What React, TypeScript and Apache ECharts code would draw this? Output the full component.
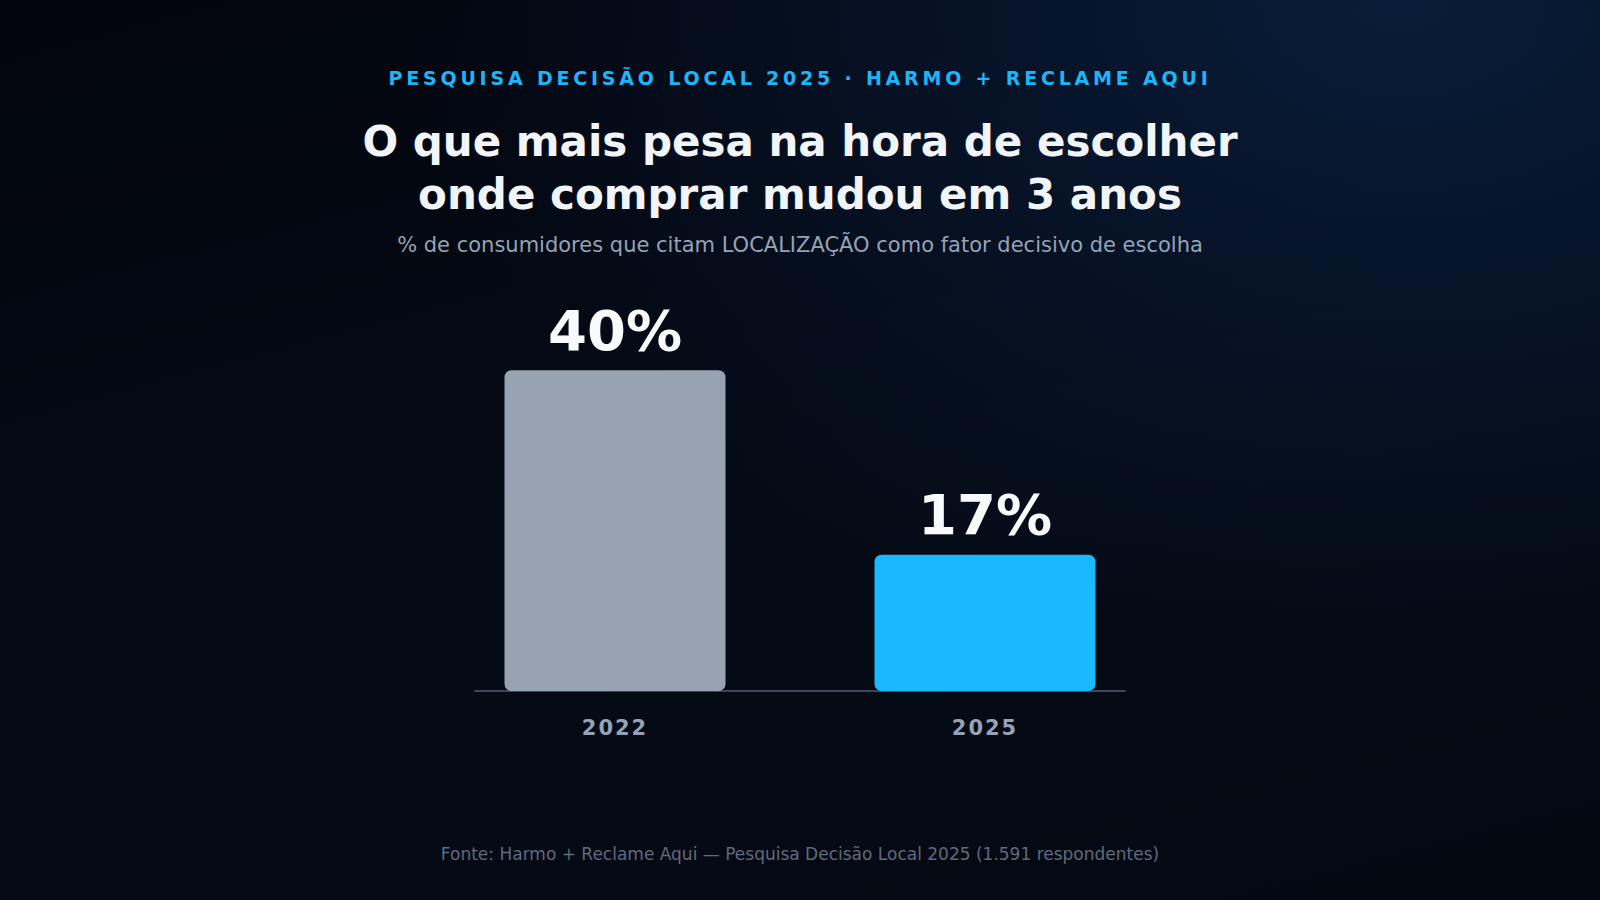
import * as echarts from "echarts";
import { useEffect, useRef } from "react";

const KICKER = "PESQUISA DECISÃO LOCAL 2025 · HARMO + RECLAME AQUI";
const TITLE_LINES = ["O que mais pesa na hora de escolher", "onde comprar mudou em 3 anos"];
const SUBTITLE = "% de consumidores que citam LOCALIZAÇÃO como fator decisivo de escolha";
const SOURCE = "Fonte: Harmo + Reclame Aqui — Pesquisa Decisão Local 2025 (1.591 respondentes)";

const years = ["2022", "2025"];
const shares = [40, 17];
const barColors = ["#97a3b3", "#18b9ff"];

const FONT = "'DejaVu Sans', 'Noto Sans', sans-serif";

const App = () => {
  const chartRef = useRef<HTMLDivElement>(null);

  useEffect(() => {
    if (!chartRef.current) return;
    const chart = echarts.init(chartRef.current, undefined, { renderer: "svg" });

    const titleLines = TITLE_LINES.map((line, i) => ({
      text: line,
      left: "center",
      top: 115 + i * 53,
      padding: 0,
      textStyle: { color: "#f1f5f9", fontSize: 42, fontWeight: "bold" as const, lineHeight: 53, fontFamily: FONT },
    }));

    const option: echarts.EChartsOption = {
      animation: false,
      backgroundColor: "transparent",
      textStyle: { fontFamily: FONT },
      title: [
        {
          text: KICKER,
          left: "center",
          top: 68,
          padding: 0,
          textStyle: { color: "#1cb6f8", fontSize: 19, fontWeight: "bold", lineHeight: 19, fontFamily: FONT },
        },
        ...titleLines,
        {
          text: SUBTITLE,
          left: "center",
          top: 234,
          padding: 0,
          textStyle: { color: "#94a3b8", fontSize: 21, fontWeight: "normal", lineHeight: 21, fontFamily: FONT },
        },
        {
          text: SOURCE,
          left: "center",
          top: 845,
          padding: 0,
          textStyle: { color: "#5f6b7e", fontSize: 17, fontWeight: "normal", lineHeight: 17, fontFamily: FONT },
        },
      ],
      grid: [
        { left: 430, right: 430, top: 290, bottom: 209 },
        { left: 475, right: 475, top: 290, bottom: 209 },
      ],
      xAxis: [
        {
          type: "category",
          gridIndex: 0,
          data: years,
          axisLine: { show: false },
          axisTick: { show: false },
          axisLabel: {
            color: "#94a3b8",
            fontSize: 21,
            fontWeight: "bold",
            fontFamily: FONT,
            margin: 26,
          },
        },
        {
          type: "category",
          gridIndex: 1,
          data: years,
          axisLine: { show: true, onZero: false, lineStyle: { color: "#3d4759", width: 2 } },
          axisTick: { show: false },
          axisLabel: { show: false },
        },
      ],
      yAxis: [
        { type: "value", gridIndex: 0, min: 0, max: 50, show: false },
        { type: "value", gridIndex: 1, min: 0, max: 50, show: false },
      ],
      series: [
        {
          type: "bar",
          xAxisIndex: 0,
          yAxisIndex: 0,
          barWidth: 221,
          data: shares.map((v, i) => ({ value: v, itemStyle: { color: barColors[i] } })),
          itemStyle: { borderRadius: 7 },
          label: {
            show: true,
            position: "top",
            distance: 12,
            formatter: "{c}%",
            color: "#f8fafc",
            fontSize: 56,
            fontWeight: "bold",
            fontFamily: FONT,
          },
        },
      ],
    };

    chart.setOption(option);

    // spaced-out lettering for the kicker and the year labels
    chartRef.current.querySelectorAll("svg text").forEach((t) => {
      const s = t.textContent ?? "";
      if (s === KICKER) t.setAttribute("letter-spacing", "3.8");
      if (years.includes(s)) t.setAttribute("letter-spacing", "2");
    });

    return () => {
      chart.dispose();
    };
  }, []);

  return (
    <div
      ref={chartRef}
      style={{
        position: "fixed",
        left: 0,
        top: 0,
        width: "1600px",
        height: "900px",
        background:
          "radial-gradient(ellipse 1250px 820px at 1400px 0px, rgba(9,30,60,0.95) 0%, rgba(8,24,50,0.6) 38%, rgba(5,10,20,0) 80%), linear-gradient(165deg, #02050d 0%, #050b16 55%, #040811 100%)",
      }}
    />
  );
};

export default App;
